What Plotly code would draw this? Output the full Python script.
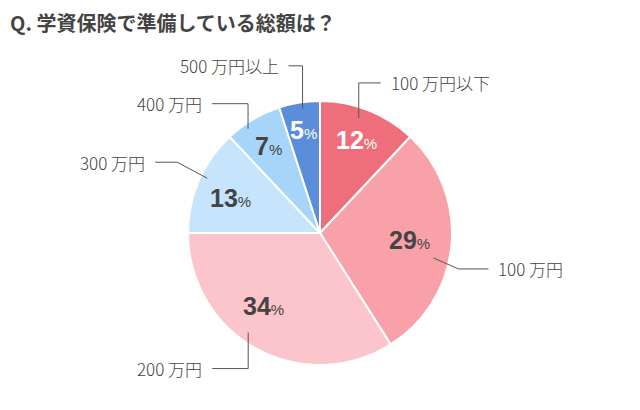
import math
import plotly.graph_objects as go

# ---- data ----
categories = ["100 万円以下", "100 万円", "200 万円", "300 万円", "400 万円", "500 万円以上"]
values = [12, 29, 34, 13, 7, 5]
colors = ["#EE6F7B", "#F9A1A9", "#FCC4CB", "#C6E4FB", "#A7D5F9", "#5B8EDA"]
text_colors = ["#FFFFFF", "#444444", "#444444", "#444444", "#444444", "#FFFFFF"]
title = "Q. 学資保険で準備している総額は？"

# ---- styling / layout params ----
W, H = 640, 410
CX, CY, R = 320, 233, 132
leader_angle_shift = [-3, 7, 7, 2.5, -4, 1]
leader_radius = [0.92, 0.88, 0.93, 0.95, 0.96, 0.95]
# leader: elbow offset (dx, dy) from start, horizontal run length
leader_elbow = [(0, -35), (25, 11), (0, 36), (-30, -16), (0, -25), (0, -43)]
leader_run = [22, 30, -36, -22, -36, -14]
pct_radius = [0.76, 0.68, 0.70, 0.73, 0.77, 0.79]
pct_angle_shift = [0, -1, 9, -2, 0, 0]

def px(x):
    return x / W

def py(y):
    return 1 - y / H

fig = go.Figure()
fig.add_trace(go.Pie(
    labels=categories, values=values, sort=False, direction="clockwise", rotation=0,
    marker=dict(colors=colors, line=dict(color="white", width=2)),
    textinfo="none", hoverinfo="label+percent", showlegend=False,
    domain=dict(x=[px(CX - R), px(CX + R)], y=[py(CY + R), py(CY - R)]),
))

total = sum(values)
cum = 0
shapes = []
annotations = []
for i, v in enumerate(values):
    mid = (cum + v / 2) / total * 360
    cum += v
    # percent label
    ap = math.radians(mid + pct_angle_shift[i])
    rp = R * pct_radius[i]
    lx, ly = CX + rp * math.sin(ap), CY - rp * math.cos(ap)
    annotations.append(dict(
        x=px(lx), y=py(ly), xref="paper", yref="paper", showarrow=False,
        text=f"<b>{v}</b><span style='font-size:15px'>%</span>",
        font=dict(family="Liberation Sans, Arial", size=25, color=text_colors[i]),
        xanchor="center", yanchor="middle",
    ))
    # leader line
    a = math.radians(mid + leader_angle_shift[i])
    rl = R * leader_radius[i]
    sx, sy = CX + rl * math.sin(a), CY - rl * math.cos(a)
    ex, ey = sx + leader_elbow[i][0], sy + leader_elbow[i][1]
    hx = ex + leader_run[i]
    shapes.append(dict(
        type="path", xref="paper", yref="paper",
        path=f"M {px(sx)} {py(sy)} L {px(ex)} {py(ey)} L {px(hx)} {py(ey)}",
        line=dict(color="#555555", width=1),
    ))
    right = leader_run[i] > 0
    annotations.append(dict(
        x=px(hx + (8 if right else -8)), y=py(ey), xref="paper", yref="paper",
        showarrow=False, text=categories[i],
        font=dict(family="Noto Sans CJK JP", size=17, color="#444444", weight=300),
        xanchor="left" if right else "right", yanchor="middle",
    ))

annotations.append(dict(
    x=px(8), y=py(22), xref="paper", yref="paper", showarrow=False,
    text=f"<b>{title}</b>", xanchor="left", yanchor="middle",
    font=dict(family="Noto Sans CJK JP", size=20, color="#444444"),
))

fig.update_layout(
    width=W, height=H, margin=dict(l=0, r=0, t=0, b=0),
    paper_bgcolor="white", plot_bgcolor="white",
    shapes=shapes, annotations=annotations,
)
fig.write_html("out.html")
